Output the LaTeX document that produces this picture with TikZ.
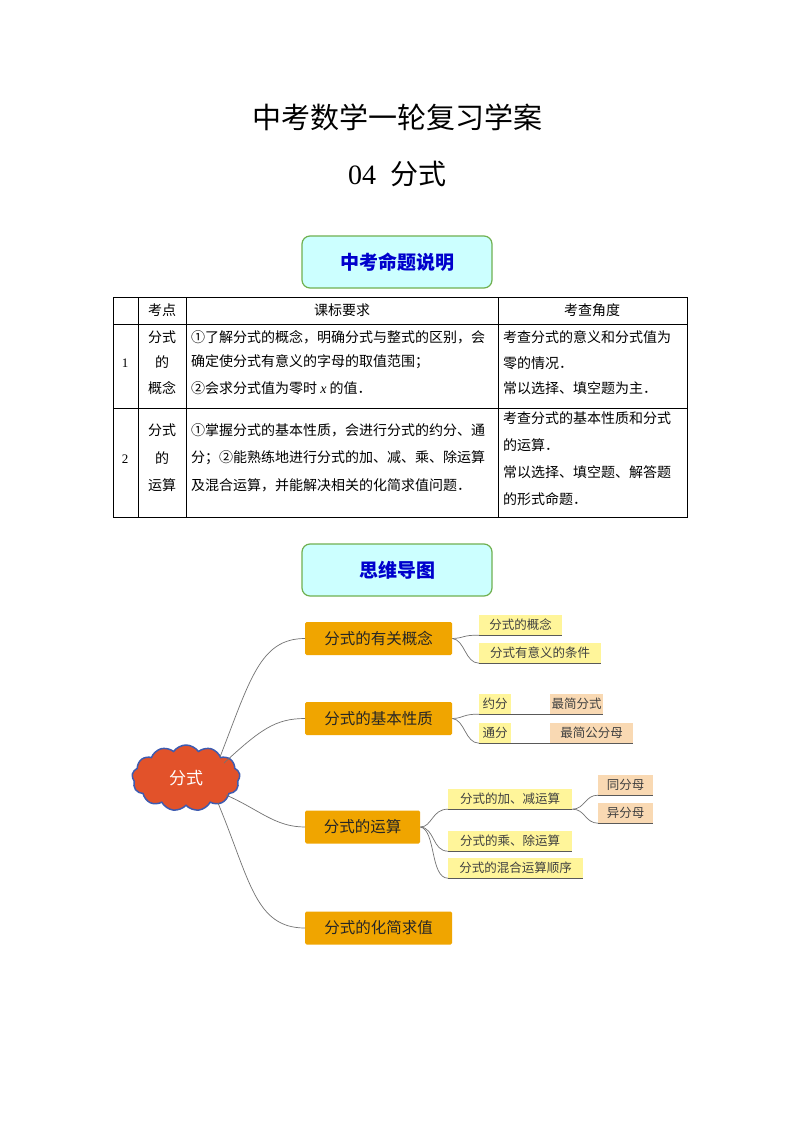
\documentclass[tikz,border=0pt]{standalone}
\usepackage{fontspec}
\setmainfont{Liberation Serif}
\newfontfamily\cjk{Noto Sans CJK SC}
\newfontfamily\cjkb{Noto Sans CJK SC Black}
\usetikzlibrary{shapes.symbols}
\definecolor{orbox}{HTML}{F0A500}
\definecolor{ylw}{HTML}{FFF59A}
\definecolor{pch}{HTML}{F9D9B3}
\definecolor{cyanbox}{HTML}{CCFFFF}
\definecolor{grn}{HTML}{70B050}
\definecolor{cloudf}{HTML}{E2522A}
\definecolor{cloudb}{HTML}{3E5BB0}
\tikzset{
 tt/.style={font=\cjk\fontsize{14}{16}\selectfont,inner sep=0},
 head/.style={draw=grn,line width=1.2pt,fill=cyanbox,rounded corners=8pt,minimum width=190pt,minimum height=52pt,font=\cjkb\fontsize{19}{20}\selectfont\color{blue!80!black}},
 ob/.style={fill=orbox,rounded corners=1.5pt,anchor=west,minimum height=33pt,font=\cjk\fontsize{15.5}{17}\selectfont\color{white!15!black},inner sep=0},
 yl/.style={fill=ylw,anchor=west,minimum height=20pt,font=\cjk\fontsize{12.5}{14}\selectfont\color{black!75},inner sep=0},
 pc/.style={fill=pch,anchor=west,minimum height=20pt,font=\cjk\fontsize{12.5}{14}\selectfont\color{black!75},inner sep=0},
 ln/.style={draw=black!65,line width=0.6pt},
 br/.style={draw=black!55,line width=0.7pt}
}
\begin{document}
\begin{tikzpicture}[x=1pt,y=-1pt]
\useasboundingbox[fill=white] (0,0) rectangle (794,1123);
\node[font=\cjk\fontsize{29}{32}\selectfont] (t1) at (397,117) {中考数学一轮复习学案};
\node[font=\fontsize{28}{32}\selectfont] (t2) at (397,174) {04\ \ {\cjk 分式}};
\node[head] (h1) at (397,262) {中考命题说明};
% table
\draw[line width=0.6pt] (113,297) rectangle (687,517);
\foreach \y in {324,408} \draw[line width=0.6pt] (113,\y) -- (687,\y);
\foreach \x in {138,186,498} \draw[line width=0.6pt] (\x,297) -- (\x,517);
\node[tt] (c1) at (162,310) {考点};
\node[tt] (c2) at (342,310) {课标要求};
\node[tt] (c3) at (592,310) {考查角度};
\node[font=\fontsize{13}{14}\selectfont] (n1) at (125,363) {1};
\node[font=\fontsize{13}{14}\selectfont] (n2) at (125,459) {2};
\node[tt] (a1) at (162,337) {分式}; \node[tt] (a2) at (162,362) {的}; \node[tt] (a3) at (162,388) {概念};
\node[tt] (b1) at (162,430) {分式}; \node[tt] (b2) at (162,458) {的}; \node[tt] (b3) at (162,485) {运算};
\node[tt,anchor=west] (r1) at (191,337) {①了解分式的概念，明确分式与整式的区别，会};
\node[tt,anchor=west] (r2) at (191,362) {确定使分式有意义的字母的取值范围；};
\node[tt,anchor=west] (r3) at (191,388) {②会求分式值为零时 {\rmfamily\itshape x} 的值．};
\node[tt,anchor=west] (r4) at (191,430) {①掌握分式的基本性质，会进行分式的约分、通};
\node[tt,anchor=west] (r5) at (191,458) {分；②能熟练地进行分式的加、减、乘、除运算};
\node[tt,anchor=west] (r6) at (191,485) {及混合运算，并能解决相关的化简求值问题．};
\node[tt,anchor=west] (s1) at (503,337) {考查分式的意义和分式值为};
\node[tt,anchor=west] (s2) at (503,363) {零的情况．};
\node[tt,anchor=west] (s3) at (503,388) {常以选择、填空题为主．};
\node[tt,anchor=west] (s4) at (503,418) {考查分式的基本性质和分式};
\node[tt,anchor=west] (s5) at (503,445) {的运算．};
\node[tt,anchor=west] (s6) at (503,472) {常以选择、填空题、解答题};
\node[tt,anchor=west] (s7) at (503,499) {的形式命题．};
\node[head] (h2) at (397,570) {思维导图};
% mind map
\node[cloud,cloud puffs=13,cloud puff arc=110,aspect=1.6,draw=cloudb,line width=1.5pt,fill=cloudf,minimum width=108pt,minimum height=66pt,font=\cjk\fontsize{17}{18}\selectfont\color{white},inner sep=0] (root) at (186,778) {分式};
\node[ob,minimum width=147pt] (m1) at (305,638.5) {分式的有关概念};
\node[ob,minimum width=147pt] (m2) at (305,718.5) {分式的基本性质};
\node[ob,minimum width=115pt] (m3) at (305,827) {分式的运算};
\node[ob,minimum width=147pt] (m4) at (305,928) {分式的化简求值};
\draw[br] (220,757) .. controls (250,680) and (260,638.5) .. (m1.west);
\draw[br] (224,763) .. controls (260,730) and (275,718.5) .. (m2.west);
\draw[br] (226,795) .. controls (260,810) and (275,827) .. (m3.west);
\draw[br] (218,803) .. controls (250,880) and (255,928) .. (m4.west);
\node[yl,minimum width=83pt] (l1) at (479,625) {分式的概念};
\node[yl,minimum width=122pt] (l2) at (479,653) {分式有意义的条件};
\node[yl,minimum width=32pt] (l3) at (479,704) {约分};
\node[pc,minimum width=53pt] (l4) at (550,704) {最简分式};
\node[yl,minimum width=32pt] (l5) at (479,733) {通分};
\node[pc,minimum width=83pt] (l6) at (550,733) {最简公分母};
\node[yl,minimum width=124pt] (l7) at (448,799) {分式的加、减运算};
\node[pc,minimum width=55pt] (l8) at (598,785) {同分母};
\node[pc,minimum width=55pt] (l9) at (598,813) {异分母};
\node[yl,minimum width=124pt] (l10) at (448,841) {分式的乘、除运算};
\node[yl,minimum width=135pt] (l11) at (448,868) {分式的混合运算顺序};
\draw[ln] (l1.south west) -- (l1.south east);
\draw[ln] (l2.south west) -- (l2.south east);
\draw[ln] (l3.south west) -- (l4.south east);
\draw[ln] (l5.south west) -- (l6.south east);
\draw[ln] (l7.south west) -- (l7.south east);
\draw[ln] (l8.south west) -- (l8.south east);
\draw[ln] (l9.south west) -- (l9.south east);
\draw[ln] (l10.south west) -- (l10.south east);
\draw[ln] (l11.south west) -- (l11.south east);
\draw[br] (m1.east) .. controls (465,638) and (462,635) .. (l1.south west);
\draw[br] (m1.east) .. controls (465,640) and (465,663) .. (l2.south west);
\draw[br] (m2.east) .. controls (465,718) and (462,714) .. (l3.south west);
\draw[br] (m2.east) .. controls (465,720) and (465,743) .. (l5.south west);
\draw[br] (m3.east) .. controls (432,827) and (432,809) .. (l7.south west);
\draw[br] (m3.east) .. controls (435,828) and (432,851) .. (l10.south west);
\draw[br] (m3.east) .. controls (436,830) and (430,878) .. (l11.south west);
\draw[br] (l7.south east) .. controls (585,809) and (585,795) .. (l8.south west);
\draw[br] (l7.south east) .. controls (585,809) and (585,823) .. (l9.south west);
\end{tikzpicture}
\end{document}
